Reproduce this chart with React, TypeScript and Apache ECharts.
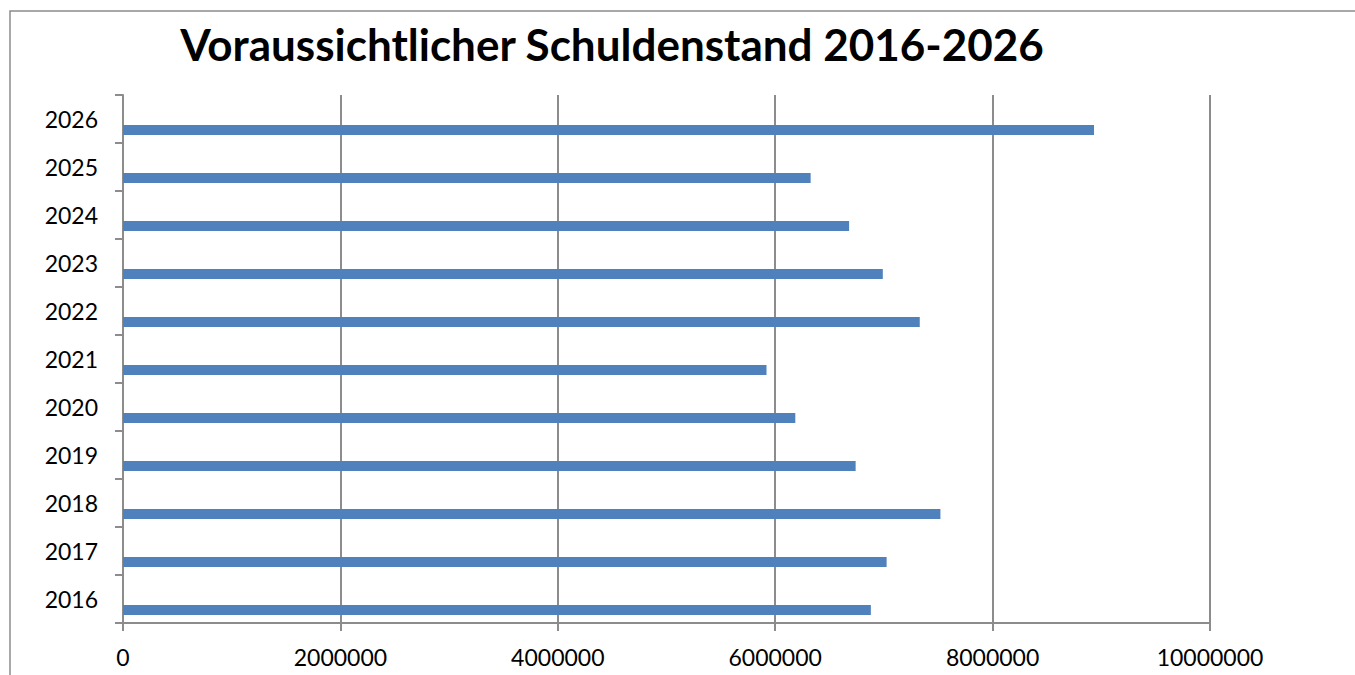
import React, { useEffect, useRef } from "react";
import * as echarts from "echarts";

const years = ["2016", "2017", "2018", "2019", "2020", "2021", "2022", "2023", "2024", "2025", "2026"];
const debt = [6880000, 7025000, 7520000, 6740000, 6185000, 5920000, 7330000, 6990000, 6680000, 6326000, 8933000];
const emptySeries = years.map(() => null);
const titleText = "Voraussichtlicher Schuldenstand 2016-2026";

export default function App() {
  const ref = useRef<HTMLDivElement>(null);
  useEffect(() => {
    document.body.style.margin = "0";
    const chart = echarts.init(ref.current!, null, { renderer: "svg" });
    chart.setOption({
      animation: false,
      backgroundColor: "#ffffff",
      textStyle: { fontFamily: "Lato" },
      title: {
        text: titleText,
        left: 607,
        top: 17,
        textAlign: "center",
        textStyle: { fontFamily: "Lato", fontWeight: "bold", fontSize: 44, color: "#000" },
      },
      graphic: [
        {
          type: "rect",
          shape: { x: 10, y: 11, width: 1400, height: 700 },
          style: { fill: "none", stroke: "#8c8c8c", lineWidth: 1.5 },
          silent: true,
        },
      ],
      grid: { left: 123, top: 95, right: 145, bottom: 52 },
      xAxis: {
        type: "value",
        min: 0,
        max: 10000000,
        interval: 2000000,
        axisLine: { show: true, lineStyle: { color: "#8c8c8c", width: 2 } },
        axisTick: { show: true, length: 8, lineStyle: { color: "#8c8c8c", width: 2 } },
        axisLabel: {
          color: "#000",
          fontSize: 23,
          fontFamily: "Lato",
          margin: 22,
          formatter: (v: number) => String(v),
        },
        splitLine: { show: true, lineStyle: { color: "#8c8c8c", width: 2 } },
      },
      yAxis: {
        type: "category",
        data: years,
        axisLine: { show: true, lineStyle: { color: "#8c8c8c", width: 2 } },
        axisTick: { show: true, length: 8, lineStyle: { color: "#8c8c8c", width: 2 } },
        axisLabel: { color: "#000", fontSize: 23, fontFamily: "Lato", margin: 25 },
        splitLine: { show: false },
      },
      series: [
        {
          type: "bar",
          data: emptySeries,
          barWidth: 10,
          barGap: "120%",
        },
        {
          type: "bar",
          data: debt,
          barWidth: 10,
          barGap: "120%",
          itemStyle: { color: "#4f81bd" },
        },
      ],
    });
    return () => chart.dispose();
  }, []);
  return <div ref={ref} style={{ position: "fixed", left: 0, top: 0, width: 1355, height: 675 }} />;
}
